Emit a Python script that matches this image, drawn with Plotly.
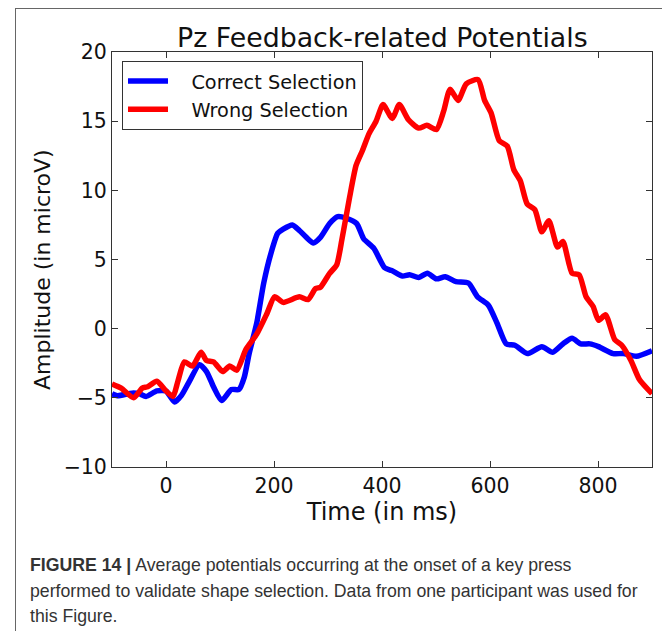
import plotly.graph_objects as go

# ---- data ----
correct_t = [-100, -90, -63, -50, -37, -17, 0, 6, 16, 29, 42, 62, 75, 88, 103, 121, 135, 145, 154, 168,
             181, 194, 207, 217, 234, 247, 260, 273, 286, 303, 318, 333, 353, 366, 385, 405, 418, 438, 451, 468,
             484, 501, 517, 537, 560, 577, 597, 613, 630, 646, 669, 696, 716, 735, 752, 768, 785, 801, 828, 847,
             871, 900]
correct_v = [-4.7, -4.85, -4.66, -4.7, -4.9, -4.5, -4.5, -4.8, -5.3, -4.8, -3.9, -2.6, -3.1, -4.2, -5.2, -4.4, -4.4, -3.5, -1.8, 0.4,
             3.3, 5.4, 6.9, 7.2, 7.5, 7.1, 6.6, 6.2, 6.6, 7.6, 8.1, 8.0, 7.6, 6.5, 5.8, 4.4, 4.2, 3.8, 3.9, 3.7,
             4.0, 3.6, 3.75, 3.4, 3.3, 2.3, 1.7, 0.4, -1.1, -1.2, -1.8, -1.3, -1.7, -1.1, -0.7, -1.1, -1.1, -1.3, -1.8, -1.8,
             -2.0, -1.6]

wrong_t = [-100, -83, -60, -44, -34, -17, 0, 13, 22, 34, 49, 65, 75, 88, 105, 118, 131, 148, 168, 187,
           201, 217, 247, 263, 277, 286, 303, 316, 326, 340, 352, 364, 376, 389, 402, 419, 432, 449, 468, 483,
           501, 514, 526, 541, 556, 578, 590, 602, 617, 632, 644, 656, 669, 683, 696, 709, 725, 735, 752, 765,
           778, 791, 801, 814, 831, 844, 861, 877, 900]
wrong_v = [-4.0, -4.3, -5.0, -4.3, -4.2, -3.8, -4.5, -4.9, -3.8, -2.4, -2.7, -1.7, -2.3, -2.4, -3.1, -2.7, -3.0, -1.5, -0.4, 1.1,
           2.3, 1.9, 2.3, 2.1, 2.9, 3.0, 4.0, 4.6, 6.5, 9.5, 11.8, 12.9, 14.1, 15.0, 16.2, 15.2, 16.2, 15.1, 14.5, 14.7,
           14.4, 15.7, 17.3, 16.5, 17.7, 18.0, 16.5, 15.6, 13.6, 13.2, 11.5, 10.7, 9.0, 8.6, 7.0, 7.8, 5.9, 6.3, 4.0, 3.9,
           2.3, 1.6, 0.6, 1.0, -0.8, -1.2, -2.3, -3.7, -4.7]

series_names = ["Correct Selection", "Wrong Selection"]
x_ticks = [0, 200, 400, 600, 800]
y_ticks = [-10, -5, 0, 5, 10, 15, 20]

title_text = "Pz Feedback-related Potentials"
x_title = "Time (in ms)"
y_title = "Amplitude (in microV)"
caption_lines = [
    "<b>FIGURE 14 |</b> Average potentials occurring at the onset of a key press",
    "performed to validate shape selection. Data from one participant was used for",
    "this Figure.",
]

FONT = "DejaVu Sans"
OFF = 8  # page body margin in the browser
W, H = 670 - OFF, 639 - 2 * OFF
# plot area in page pixels (reference): x 112..652, y 52..467
PLOT_L, PLOT_R, PLOT_T, PLOT_B = 112, 652, 52, 467
L, R, T = PLOT_L - OFF, (W + OFF) - PLOT_R, PLOT_T - OFF
B = (H + OFF) - PLOT_B
PW, PH = W - L - R, H - T - B


def px_x(p):
    return (p - OFF - L) / PW


def px_y(p):
    return (H - B - (p - OFF)) / PH


PAD = "\u00a0\u00a0\u00a0"

fig = go.Figure()
fig.add_trace(go.Scatter(x=correct_t, y=correct_v, mode="lines", name=PAD + series_names[0],
                         line=dict(color="#0000ff", width=5.5, shape="spline", smoothing=0.6)))
fig.add_trace(go.Scatter(x=wrong_t, y=wrong_v, mode="lines", name=PAD + series_names[1],
                         line=dict(color="#ff0000", width=5.5, shape="spline", smoothing=0.6)))

axis_common = dict(showgrid=False, zeroline=False, showline=True, linecolor="#333333", linewidth=1,
                   mirror="ticks", ticks="inside", ticklen=6, tickcolor="#333333",
                   tickfont=dict(family=FONT, size=20.5, color="#111111"))

fig.update_xaxes(range=[-100, 900], tickvals=x_ticks,
                 title=dict(text=x_title, font=dict(family=FONT, size=24, color="#111111"), standoff=4),
                 **axis_common)
fig.update_yaxes(range=[-10, 20], tickvals=y_ticks, **axis_common)

# outer frame drawn as a grey filled box with a white box inset by 1 px
shapes = [
    dict(type="rect", xref="paper", yref="paper", layer="below",
         x0=px_x(15), x1=px_x(669), y0=px_y(700), y1=px_y(8),
         line=dict(width=0), fillcolor="#666666"),
    dict(type="rect", xref="paper", yref="paper", layer="below",
         x0=px_x(16), x1=px_x(668), y0=px_y(700), y1=px_y(9),
         line=dict(width=0), fillcolor="#ffffff"),
]

annotations = [
    dict(text=title_text, xref="paper", yref="paper", x=0.5, y=px_y(37),
         xanchor="center", yanchor="middle", showarrow=False,
         font=dict(family=FONT, size=26.8, color="#111111")),
    dict(text=y_title, xref="paper", yref="paper", x=px_x(42), y=px_y(270),
         xanchor="center", yanchor="middle", showarrow=False, textangle=-90,
         font=dict(family=FONT, size=22, color="#111111")),
]
cap_y = [565, 591, 616]
for line, yy in zip(caption_lines, cap_y):
    annotations.append(dict(text=line, xref="paper", yref="paper", x=px_x(28), y=px_y(yy),
                            xanchor="left", yanchor="middle", showarrow=False,
                            font=dict(family="Liberation Sans", size=17.7, color="#333333")))

fig.update_layout(
    width=W, height=H,
    margin=dict(l=L, r=R, t=T, b=B),
    paper_bgcolor="white", plot_bgcolor="white",
    showlegend=True,
    legend=dict(x=px_x(122), y=px_y(61), xanchor="left", yanchor="top",
                bgcolor="white", bordercolor="#333333", borderwidth=1,
                font=dict(family=FONT, size=19.3, color="#111111"),
                itemwidth=40, tracegroupgap=0),
    shapes=shapes,
    annotations=annotations,
)

fig.write_html("out.html")
